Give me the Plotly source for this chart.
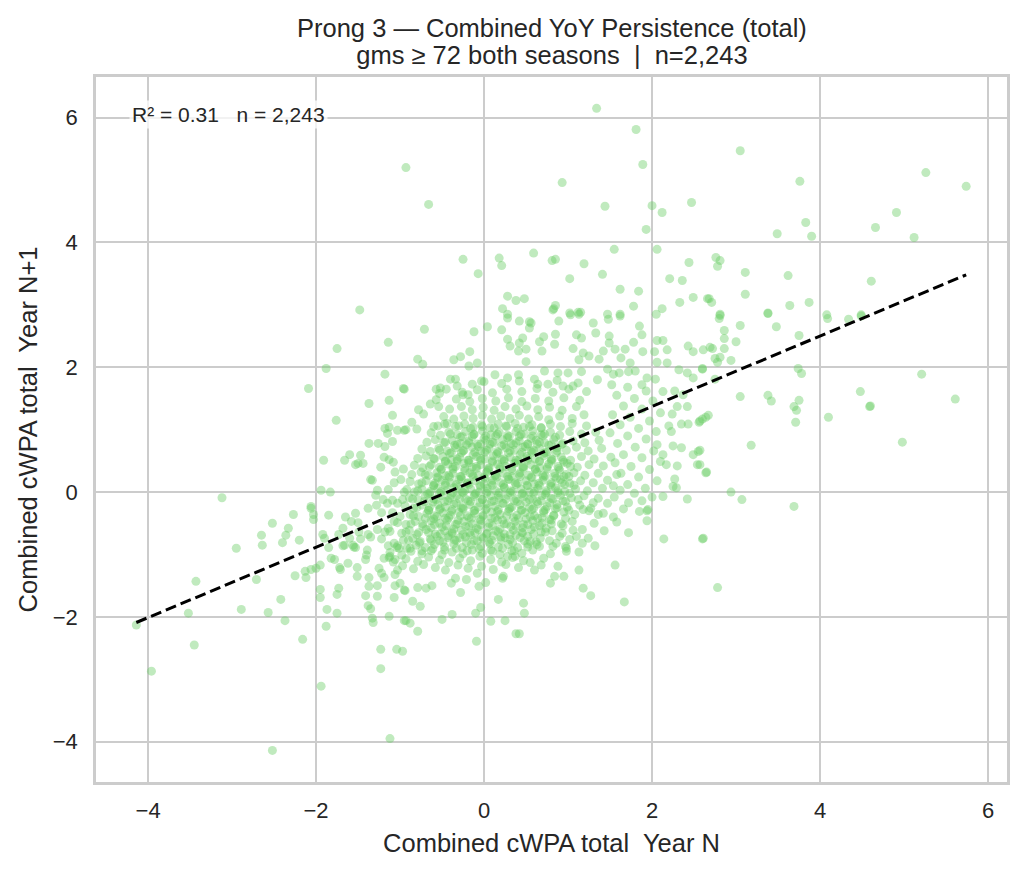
import plotly.graph_objects as go

# ---- data (Year N, Year N+1) ----
upper_pts = [
    (1.34, 6.15), (1.81, 5.81), (1.89, 5.25), (0.93, 4.96), (-0.93, 5.20), (-0.66, 4.61),
    (1.44, 4.58), (2.00, 4.59), (2.12, 4.48), (2.47, 4.64), (1.93, 4.21), (1.55, 3.89),
    (2.06, 3.89), (2.44, 3.68), (-0.25, 3.73), (-0.07, 3.50), (0.18, 3.75), (0.21, 3.63),
    (0.59, 3.83), (0.81, 3.71), (0.85, 3.73), (1.19, 3.66), (1.02, 3.42), (1.41, 3.49),
    (1.62, 3.25), (1.84, 3.22), (2.21, 3.42), (2.36, 3.39), (2.49, 3.12), (2.33, 3.04),
    (2.12, 2.94), (1.78, 2.98), (2.66, 3.10), (0.28, 3.14), (0.38, 3.07), (0.48, 3.10),
    (0.22, 2.94), (0.83, 2.94), (0.85, 2.99), (0.28, 2.85), (1.02, 2.87), (1.12, 2.88),
    (1.15, 2.88), (1.47, 2.85), (1.62, 2.85), (2.05, 2.85),
    (3.05, 5.47), (3.76, 4.98), (3.83, 4.32), (3.49, 4.14), (3.90, 4.10), (5.26, 5.12),
    (5.74, 4.90), (4.91, 4.48), (4.66, 4.24), (5.12, 4.08), (4.61, 3.38), (2.76, 3.76),
    (2.81, 3.71), (2.78, 3.62), (3.11, 3.52), (3.62, 3.47), (3.11, 3.17), (2.68, 3.10),
    (2.71, 3.04), (3.64, 2.99), (3.87, 3.04), (3.38, 2.87), (2.81, 2.85), (4.08, 2.84),
    (4.49, 2.84), (-1.48, 2.92),
]

right_pts = [
    (5.21, 1.89), (5.61, 1.49), (4.48, 1.61), (4.59, 1.37), (4.60, 1.38), (4.10, 1.20),
    (4.98, 0.80), (4.09, 2.78), (4.34, 2.77), (4.49, 2.82), (3.75, 2.51), (3.74, 1.98),
    (3.78, 1.90), (3.38, 1.55), (3.42, 1.46), (3.75, 1.47), (3.69, 1.37), (3.72, 1.31),
    (3.71, 1.12), (3.05, 1.53), (3.18, 0.75), (2.67, 1.23), (2.60, 1.17), (2.57, 1.14),
    (2.57, 0.67), (2.57, 0.44), (2.65, 0.32), (2.94, 0.00), (3.07, -0.12), (3.69, -0.23),
    (2.61, -0.74), (3.38, 2.86), (3.48, 2.65), (3.05, 2.67), (2.81, 2.83), (2.80, 2.78),
    (2.86, 2.59), (2.86, 2.46), (3.00, 2.41), (2.69, 2.32), (2.72, 2.30), (2.86, 2.30),
    (2.75, 2.14), (2.81, 2.16), (2.78, 2.08), (2.94, 2.11), (2.60, 1.98), (2.75, 1.81),
    (2.78, -1.53),
]

left_pts = [
    (-1.75, 2.30), (-1.14, 2.40), (-1.88, 1.98), (-2.09, 1.66), (-1.18, 1.89), (-0.96, 1.66),
    (-1.37, 1.42), (-1.13, 1.47), (-1.76, 1.15), (-1.09, 1.23), (-1.18, 1.02), (-1.13, 1.04),
    (-1.15, 0.94), (-1.03, 0.99), (-0.95, 0.99), (-1.37, 0.78), (-1.26, 0.78), (-1.18, 0.73),
    (-1.09, 0.81), (-1.91, 0.51), (-1.66, 0.51), (-1.60, 0.60), (-1.47, 0.59), (-1.53, 0.44),
    (-1.50, 0.46), (-1.44, 0.46), (-1.23, 0.40), (-1.19, 0.56), (-1.13, 0.52), (-1.08, 0.48),
    (-1.06, 0.32), (-0.96, 0.37), (-1.35, 0.20), (-1.33, 0.19), (-1.07, 0.15), (-0.99, 0.20),
    (-3.12, -0.09), (-1.94, 0.03), (-1.83, 0.00), (-1.27, 0.03), (-1.14, 0.04), (-1.29, -0.05),
    (-1.20, -0.12), (-1.15, -0.18), (-1.09, -0.13), (-1.03, -0.18), (-0.97, -0.12), (-0.95, 0.00),
    (-2.06, -0.23), (-2.06, -0.26), (-2.03, -0.36), (-2.03, -0.44), (-2.27, -0.36), (-2.52, -0.50),
    (-2.33, -0.58), (-2.36, -0.69), (-2.65, -0.69), (-2.64, -0.85), (-2.40, -0.81), (-2.20, -0.77),
    (-2.95, -0.90), (-1.85, -0.37), (-1.92, -0.68), (-1.90, -0.74), (-1.73, -0.68), (-1.68, -0.58),
    (-1.65, -0.40), (-1.53, -0.34), (-1.58, -0.47), (-1.50, -0.49), (-1.60, -0.74), (-1.66, -0.85),
    (-1.56, -0.85), (-1.38, -0.26), (-1.28, -0.21), (-1.22, -0.33), (-1.38, -0.68), (-1.35, -0.72),
    (-1.27, -0.60), (-1.22, -0.75), (-1.18, -0.64), (-1.14, -0.58), (-1.09, -0.33), (-1.07, -0.47),
    (-1.03, -0.49), (-1.00, -0.39), (-1.07, -0.82), (-1.03, -0.86), (-1.49, -0.64), (-1.47, -0.75),
]

lower_left_pts = [
    (-4.14, -2.13), (-3.96, -2.87), (-3.45, -2.45), (-3.52, -1.94), (-3.43, -1.43), (-2.89, -1.88),
    (-2.71, -1.40), (-2.42, -1.72), (-2.57, -1.93), (-2.37, -2.06), (-2.16, -2.36), (-2.52, -4.14),
    (-1.94, -3.11), (-1.12, -3.95), (-1.23, -2.52), (-1.23, -2.83), (-1.04, -2.52), (-0.97, -2.55),
    (-1.88, -2.15), (-1.87, -1.88), (-1.75, -1.94), (-1.95, -1.56), (-1.95, -1.69), (-1.75, -1.64),
    (-1.73, -1.54), (-2.25, -1.34), (-2.12, -1.37), (-2.13, -1.27), (-2.06, -1.24), (-2.00, -1.22),
    (-1.95, -1.17), (-1.85, -0.89), (-1.82, -1.06), (-1.78, -1.08), (-1.72, -1.21), (-1.71, -1.24),
    (-1.62, -1.14), (-1.51, -1.21), (-1.51, -1.35), (-1.68, -0.86), (-1.55, -0.88), (-1.53, -0.89),
    (-1.41, -1.08), (-1.39, -0.93), (-1.40, -1.01), (-1.37, -1.37), (-1.37, -1.51), (-1.41, -1.66),
    (-1.38, -1.82), (-1.35, -1.87), (-1.33, -2.02), (-1.32, -2.09), (-1.27, -1.50), (-1.27, -1.67),
    (-1.25, -1.22), (-1.22, -1.30), (-1.19, -1.37), (-1.19, -1.06), (-1.13, -1.05), (-1.12, -1.03),
    (-1.06, -1.08), (-1.07, -1.69), (-1.13, -1.99), (-1.06, -1.50), (-1.00, -1.46), (-0.95, -1.57),
    (-1.03, -1.25), (-1.06, -1.32), (-1.04, -0.89), (-1.01, -0.90), (-0.95, -2.06),
]

lower_mid_pts = [
    (-0.09, -2.39), (-0.79, -2.23), (-0.93, -2.06), (-0.88, -2.10), (-0.50, -2.04), (-0.38, -1.96),
    (-0.10, -1.94), (-0.04, -1.85), (0.08, -2.07), (0.25, -2.06), (0.38, -2.27), (0.42, -2.27),
    (0.48, -1.94), (0.47, -1.78), (0.17, -1.72), (-0.85, -1.75), (-0.76, -1.83), (-0.28, -1.61),
    (-0.94, -1.58), (-0.79, -1.53), (-0.69, -1.54), (-0.62, -1.50), (-0.39, -1.46), (-0.34, -1.38),
    (-0.21, -1.40), (-0.08, -1.30), (-0.06, -1.51), (0.02, -1.45), (0.22, -1.38), (0.23, -1.35),
    (0.60, -1.25), (0.68, -1.17), (0.79, -1.46), (0.84, -1.35), (0.88, -1.19), (0.95, -1.35),
    (1.13, -1.25), (1.18, -1.54), (1.27, -1.66), (1.56, -1.17), (1.67, -1.76), (0.98, -0.90),
    (0.98, -0.95), (1.13, -0.96), (0.37, -1.03), (0.28, -1.03), (0.52, -0.88), (0.63, -0.84),
]

center_sparse_pts = [
    (-0.71, 2.61), (-0.12, 2.57), (0.04, 2.65), (0.28, 2.79), (0.42, 2.74), (0.54, 2.73),
    (0.56, 2.71), (0.21, 2.60), (0.28, 2.45), (0.31, 2.34), (0.41, 2.26), (0.50, 2.29),
    (0.42, 2.39), (0.46, 2.47), (0.54, 2.63), (0.66, 2.41), (0.71, 2.49), (0.69, 2.26),
    (0.84, 2.37), (0.85, 2.53), (0.89, 2.74), (0.82, 2.92), (1.03, 2.84), (1.13, 2.85),
    (1.10, 2.52), (1.16, 2.47), (1.06, 2.30), (1.18, 2.23), (1.13, 2.12), (1.30, 2.71),
    (1.33, 2.55), (1.48, 2.77), (1.62, 2.82), (1.49, 2.50), (1.49, 2.39), (1.68, 2.29),
    (1.78, 2.40), (1.85, 2.66), (1.88, 2.52), (1.37, 2.13), (1.25, 2.18), (1.42, 2.26),
    (1.56, 2.29), (1.74, 2.07), (1.63, 2.15), (1.89, 2.25), (2.03, 2.25), (2.06, 2.43),
    (2.13, 2.43), (2.18, 2.28), (2.06, 2.08), (2.18, 2.07), (2.43, 2.34), (2.49, 2.25),
    (2.61, 2.28), (2.32, 1.96), (2.42, 1.91), (2.49, 1.83), (2.60, 1.97), (-0.79, 2.13),
    (-0.73, 2.05), (-0.36, 2.12), (-0.28, 2.17), (-0.17, 2.25), (-0.18, 2.02), (-0.08, 2.07),
    (-0.95, 1.65), (-0.57, 1.65), (-0.52, 1.67), (-0.45, 1.65), (-0.40, 1.81), (-0.34, 1.81),
    (-0.32, 1.70), (-0.57, 1.48), (-0.54, 1.37), (-0.25, 1.56), (-0.19, 1.56), (-0.14, 1.73),
    (-0.03, 1.78), (-0.93, 1.00), (-0.80, 1.01), (-0.60, 1.05), (-0.47, 1.09), (0.13, 1.88),
    (0.28, 1.83), (0.41, 1.88), (0.50, 2.09), (0.60, 1.81), (0.72, 1.94), (0.88, 1.91),
    (1.00, 1.91), (1.16, 1.93), (1.06, 1.70), (0.94, 1.70), (0.76, 1.73), (1.47, 1.97),
    (1.54, 1.89), (1.61, 1.91), (1.72, 1.93), (1.80, 1.94), (1.94, 1.83), (1.88, 1.72),
    (2.04, 1.81), (2.13, 1.61), (2.27, 1.62), (2.37, 1.56), (2.42, 1.37), (2.30, 1.37),
    (2.24, 1.25), (2.35, 1.09), (2.20, 1.06), (2.23, 0.97), (2.43, 1.09), (2.56, 1.12),
    (2.64, 1.20), (2.55, 0.65), (2.49, 0.60), (2.64, 0.31), (2.54, 0.44), (2.06, 0.76),
    (2.13, 0.60), (2.25, 0.74), (2.35, 0.71), (2.17, 0.44), (2.30, 0.42), (2.27, 0.21),
    (2.25, 0.09), (2.29, 0.07), (2.42, -0.11), (2.13, -0.07), (1.94, -0.30), (1.85, -0.31),
    (1.72, -0.17), (1.54, -0.40), (1.72, -0.65), (2.14, -0.75), (2.60, -0.75), (1.94, -0.46),
    (1.95, -0.28), (1.18, -0.28), (1.25, -0.30), (1.30, -0.17), (1.06, -0.61), (1.10, -0.71),
    (0.97, -0.87), (0.82, -0.87), (0.90, -0.71), (0.94, -0.54),
    (1.52, 1.72), (1.71, 1.68), (1.93, 1.62), (1.58, 1.55), (1.79, 1.50), (2.01, 1.46),
    (1.66, 1.38), (1.88, 1.33), (2.10, 1.27), (1.53, 1.24), (1.74, 1.20), (1.97, 1.14),
    (1.62, 1.08), (1.84, 1.02), (2.05, 0.97), (1.50, 0.95), (1.71, 0.90), (1.93, 0.85),
    (1.59, 0.78), (1.80, 0.72), (2.02, 0.66), (1.66, 0.60), (1.88, 0.55), (2.10, 0.49),
    (1.56, 0.47), (1.75, 0.41), (1.97, 0.36), (1.63, 0.30), (1.84, 0.24), (2.06, 0.18),
    (1.71, 0.12), (1.92, 0.06), (1.54, 0.10), (1.79, -0.02), (2.00, -0.08), (1.47, -0.18),
    (1.66, -0.27), (1.88, -0.14), (1.36, -0.36), (1.58, -0.48), (1.43, -0.62), (1.24, -0.74),
    (1.32, -0.86), (1.17, -0.82), (-0.72, 1.25), (-0.64, 1.41), (-0.53, 1.58), (-0.86, 1.12),
    (-0.78, 1.32),
]

core_pts = [
    (-0.97, -1.18), (-0.84, -1.23), (-0.72, -1.16), (-0.58, -1.21), (-0.46, -1.25), (-0.31, -1.17),
    (-0.19, -1.22), (-0.03, -1.19), (0.11, -1.24), (0.26, -1.16), (0.41, -1.21), (0.55, -1.13),
    (-1.08, -1.12), (-0.93, -1.07), (-0.79, -1.11), (-0.66, -1.04), (-0.53, -1.09), (-0.42, -1.13),
    (-0.29, -1.06), (-0.16, -1.10), (-0.05, -1.03), (0.08, -1.08), (0.21, -1.12), (0.34, -1.05),
    (0.47, -1.10), (0.71, -1.06),
    (-1.12, -0.97), (-0.98, -1.01), (-0.87, -0.95), (-0.74, -0.99), (-0.63, -0.94), (-0.50, -1.00),
    (-0.38, -0.96), (-0.25, -0.99), (-0.14, -0.93), (-0.02, -0.98), (0.10, -0.95), (0.19, -1.00),
    (0.33, -0.94), (0.45, -0.98), (0.58, -0.93), (0.79, -0.99),
    (-1.14, -0.86), (-0.92, -0.90), (-0.81, -0.85), (-0.70, -0.89), (-0.59, -0.84), (-0.47, -0.88),
    (-0.36, -0.83), (-0.26, -0.89), (-0.15, -0.84), (-0.04, -0.87), (0.07, -0.83), (0.17, -0.88),
    (0.29, -0.84), (0.40, -0.89), (0.52, -0.83), (0.66, -0.87), (0.86, -0.82),
    (-0.96, -0.77), (-0.85, -0.74), (-0.76, -0.79), (-0.64, -0.75), (-0.53, -0.78), (-0.43, -0.73),
    (-0.33, -0.77), (-0.22, -0.72), (-0.12, -0.78), (-0.01, -0.74), (0.09, -0.77), (0.20, -0.72),
    (0.31, -0.76), (0.43, -0.73), (0.55, -0.79), (0.67, -0.74), (0.78, -0.78), (1.02, -0.76),
    (-1.12, -0.63), (-0.98, -0.66), (-0.89, -0.61), (-0.78, -0.65), (-0.69, -0.60), (-0.58, -0.67),
    (-0.47, -0.62), (-0.38, -0.66), (-0.27, -0.61), (-0.17, -0.65), (-0.07, -0.60), (0.04, -0.66),
    (0.14, -0.62), (0.24, -0.67), (0.35, -0.61), (0.46, -0.65), (0.56, -0.60), (0.68, -0.64),
    (0.81, -0.62), (0.93, -0.66), (1.17, -0.60),
    (-0.93, -0.52), (-0.82, -0.47), (-0.73, -0.51), (-0.63, -0.46), (-0.53, -0.50), (-0.44, -0.45),
    (-0.34, -0.52), (-0.24, -0.47), (-0.14, -0.51), (-0.04, -0.46), (0.06, -0.50), (0.16, -0.45),
    (0.27, -0.51), (0.37, -0.47), (0.47, -0.52), (0.58, -0.46), (0.69, -0.50), (0.80, -0.45),
    (0.92, -0.51), (1.05, -0.47), (1.31, -0.50),
    (-0.88, -0.36), (-0.78, -0.39), (-0.68, -0.34), (-0.59, -0.38), (-0.49, -0.33), (-0.40, -0.37),
    (-0.30, -0.32), (-0.20, -0.38), (-0.11, -0.34), (-0.01, -0.37), (0.09, -0.32), (0.19, -0.36),
    (0.29, -0.31), (0.39, -0.37), (0.49, -0.33), (0.60, -0.38), (0.71, -0.33), (0.83, -0.37),
    (0.95, -0.32), (1.08, -0.36), (1.42, -0.34),
    (-0.94, -0.22), (-0.84, -0.26), (-0.74, -0.21), (-0.65, -0.25), (-0.55, -0.20), (-0.46, -0.24),
    (-0.36, -0.19), (-0.27, -0.25), (-0.17, -0.20), (-0.07, -0.24), (0.03, -0.19), (0.13, -0.23),
    (0.23, -0.18), (0.33, -0.24), (0.43, -0.20), (0.54, -0.25), (0.64, -0.19), (0.75, -0.23),
    (0.87, -0.20), (0.99, -0.24), (1.14, -0.21), (1.27, -0.26),
    (-0.89, -0.09), (-0.79, -0.12), (-0.70, -0.07), (-0.60, -0.11), (-0.51, -0.06), (-0.41, -0.10),
    (-0.32, -0.05), (-0.22, -0.11), (-0.12, -0.07), (-0.02, -0.12), (0.08, -0.06), (0.18, -0.10),
    (0.28, -0.05), (0.38, -0.11), (0.48, -0.07), (0.58, -0.12), (0.69, -0.06), (0.80, -0.10),
    (0.91, -0.05), (1.04, -0.09), (1.19, -0.06), (1.36, -0.10), (1.55, -0.08),
    (-0.92, 0.04), (-0.83, 0.00), (-0.74, 0.05), (-0.64, 0.01), (-0.55, 0.06), (-0.45, 0.02),
    (-0.36, 0.07), (-0.26, 0.01), (-0.16, 0.05), (-0.06, 0.00), (0.04, 0.06), (0.14, 0.02),
    (0.24, 0.07), (0.34, 0.01), (0.44, 0.05), (0.54, 0.00), (0.64, 0.06), (0.74, 0.02),
    (0.85, 0.07), (0.96, 0.01), (1.09, 0.05), (1.23, 0.02), (1.41, 0.06), (1.62, 0.03),
    (-0.88, 0.17), (-0.78, 0.13), (-0.69, 0.18), (-0.59, 0.14), (-0.50, 0.19), (-0.40, 0.15),
    (-0.30, 0.20), (-0.20, 0.14), (-0.10, 0.18), (0.00, 0.13), (0.10, 0.19), (0.20, 0.15),
    (0.30, 0.20), (0.40, 0.14), (0.50, 0.18), (0.60, 0.13), (0.70, 0.19), (0.80, 0.15),
    (0.91, 0.20), (1.02, 0.14), (1.15, 0.18), (1.30, 0.15), (1.47, 0.19),
    (-0.86, 0.28), (-0.75, 0.32), (-0.66, 0.27), (-0.56, 0.31), (-0.46, 0.26), (-0.37, 0.30),
    (-0.27, 0.25), (-0.17, 0.31), (-0.07, 0.27), (0.03, 0.32), (0.13, 0.26), (0.23, 0.30),
    (0.33, 0.25), (0.43, 0.31), (0.53, 0.27), (0.63, 0.32), (0.73, 0.26), (0.84, 0.30),
    (0.95, 0.25), (1.07, 0.31), (1.20, 0.27), (1.36, 0.30), (1.58, 0.28),
    (-0.83, 0.43), (-0.73, 0.39), (-0.63, 0.44), (-0.53, 0.40), (-0.43, 0.45), (-0.34, 0.41),
    (-0.24, 0.46), (-0.14, 0.40), (-0.04, 0.44), (0.06, 0.39), (0.16, 0.45), (0.26, 0.41),
    (0.36, 0.46), (0.46, 0.40), (0.56, 0.44), (0.66, 0.39), (0.77, 0.45), (0.88, 0.41),
    (0.99, 0.46), (1.11, 0.40), (1.25, 0.44), (1.42, 0.42),
    (-0.79, 0.54), (-0.69, 0.58), (-0.59, 0.53), (-0.49, 0.57), (-0.39, 0.52), (-0.29, 0.56),
    (-0.19, 0.51), (-0.09, 0.57), (0.01, 0.53), (0.11, 0.58), (0.21, 0.52), (0.31, 0.56),
    (0.41, 0.51), (0.51, 0.57), (0.61, 0.53), (0.71, 0.58), (0.81, 0.52), (0.92, 0.56),
    (1.03, 0.51), (1.16, 0.57), (1.31, 0.53), (1.51, 0.56),
    (-0.74, 0.69), (-0.64, 0.65), (-0.54, 0.70), (-0.44, 0.66), (-0.34, 0.71), (-0.24, 0.67),
    (-0.14, 0.72), (-0.04, 0.66), (0.06, 0.70), (0.16, 0.65), (0.26, 0.71), (0.36, 0.67),
    (0.46, 0.72), (0.56, 0.66), (0.66, 0.70), (0.76, 0.65), (0.87, 0.71), (0.98, 0.67),
    (1.10, 0.72), (1.24, 0.66), (1.40, 0.70),
    (-0.68, 0.80), (-0.58, 0.84), (-0.48, 0.79), (-0.38, 0.83), (-0.28, 0.78), (-0.18, 0.82),
    (-0.08, 0.77), (0.02, 0.83), (0.12, 0.79), (0.22, 0.84), (0.32, 0.78), (0.42, 0.82),
    (0.52, 0.77), (0.62, 0.83), (0.72, 0.79), (0.83, 0.84), (0.94, 0.78), (1.06, 0.82),
    (1.20, 0.79), (1.37, 0.83),
    (-0.63, 0.95), (-0.52, 0.91), (-0.42, 0.96), (-0.32, 0.92), (-0.22, 0.97), (-0.12, 0.93),
    (-0.02, 0.98), (0.08, 0.92), (0.18, 0.96), (0.28, 0.91), (0.38, 0.97), (0.48, 0.93),
    (0.58, 0.98), (0.68, 0.92), (0.79, 0.96), (0.90, 0.91), (1.02, 0.97), (1.16, 0.93),
    (1.33, 0.96),
    (-0.55, 1.06), (-0.44, 1.10), (-0.34, 1.05), (-0.23, 1.09), (-0.13, 1.04), (-0.03, 1.08),
    (0.07, 1.03), (0.17, 1.09), (0.27, 1.05), (0.37, 1.10), (0.47, 1.04), (0.57, 1.08),
    (0.68, 1.03), (0.79, 1.09), (0.91, 1.05), (1.05, 1.10), (1.22, 1.06),
    (-0.48, 1.21), (-0.36, 1.17), (-0.24, 1.22), (-0.13, 1.18), (-0.02, 1.23), (0.09, 1.17),
    (0.20, 1.22), (0.31, 1.18), (0.42, 1.23), (0.53, 1.17), (0.65, 1.21), (0.77, 1.16),
    (0.90, 1.22), (1.05, 1.18), (1.19, 1.24),
    (-0.41, 1.33), (-0.27, 1.37), (-0.14, 1.32), (-0.01, 1.36), (0.12, 1.31), (0.25, 1.37),
    (0.38, 1.33), (0.51, 1.38), (0.64, 1.32), (0.78, 1.36), (0.93, 1.31), (1.10, 1.37),
    (-0.33, 1.49), (-0.17, 1.45), (-0.02, 1.50), (0.14, 1.46), (0.29, 1.51), (0.45, 1.45),
    (0.61, 1.50), (0.77, 1.46), (0.95, 1.51), (1.14, 1.47),
    (-0.26, 1.60), (-0.08, 1.64), (0.10, 1.59), (0.27, 1.65), (0.45, 1.61), (0.63, 1.66),
    (0.82, 1.60), (1.01, 1.65), (1.22, 1.61),
    (0.00, 1.77), (0.21, 1.74), (0.42, 1.78), (0.64, 1.73), (0.87, 1.79), (1.12, 1.75),
    (1.35, 1.80),
    (-0.56, -0.71), (-0.42, -0.70), (-0.29, -0.73), (-0.16, -0.69), (-0.03, -0.72), (0.11, -0.70),
    (0.25, -0.73), (0.38, -0.69), (0.52, -0.71),
    (-0.63, -0.57), (-0.50, -0.56), (-0.36, -0.59), (-0.22, -0.55), (-0.09, -0.58), (0.05, -0.56),
    (0.19, -0.59), (0.32, -0.55), (0.46, -0.57), (0.60, -0.56), (0.74, -0.58),
    (-0.60, -0.43), (-0.46, -0.42), (-0.31, -0.45), (-0.18, -0.41), (-0.05, -0.44), (0.09, -0.42),
    (0.22, -0.45), (0.35, -0.41), (0.50, -0.43), (0.64, -0.42), (0.78, -0.44),
    (-0.66, -0.29), (-0.53, -0.28), (-0.39, -0.31), (-0.25, -0.27), (-0.12, -0.30), (0.02, -0.28),
    (0.16, -0.31), (0.30, -0.27), (0.44, -0.29), (0.57, -0.28), (0.71, -0.30), (0.85, -0.27),
    (-0.61, -0.16), (-0.47, -0.15), (-0.33, -0.18), (-0.19, -0.14), (-0.05, -0.17), (0.09, -0.15),
    (0.22, -0.18), (0.36, -0.14), (0.50, -0.16), (0.63, -0.15), (0.78, -0.17), (0.94, -0.14),
    (-0.67, -0.03), (-0.53, -0.02), (-0.39, -0.05), (-0.25, -0.01), (-0.11, -0.04), (0.03, -0.02),
    (0.17, -0.05), (0.31, -0.01), (0.45, -0.03), (0.59, -0.02), (0.73, -0.04), (0.88, -0.01),
    (-0.60, 0.10), (-0.46, 0.11), (-0.32, 0.08), (-0.18, 0.12), (-0.04, 0.09), (0.10, 0.11),
    (0.24, 0.08), (0.38, 0.12), (0.52, 0.10), (0.66, 0.11), (0.80, 0.09), (0.96, 0.12),
    (-0.55, 0.23), (-0.41, 0.24), (-0.27, 0.21), (-0.13, 0.25), (0.01, 0.22), (0.15, 0.24),
    (0.29, 0.21), (0.43, 0.25), (0.57, 0.23), (0.71, 0.24), (0.86, 0.22), (1.01, 0.25),
    (-0.51, 0.36), (-0.37, 0.37), (-0.23, 0.34), (-0.09, 0.38), (0.05, 0.35), (0.19, 0.37),
    (0.33, 0.34), (0.47, 0.38), (0.61, 0.36), (0.75, 0.37), (0.90, 0.35),
    (-0.46, 0.49), (-0.32, 0.50), (-0.18, 0.47), (-0.04, 0.51), (0.10, 0.48), (0.24, 0.50),
    (0.38, 0.47), (0.52, 0.51), (0.66, 0.49), (0.80, 0.50), (0.95, 0.48),
    (-0.41, 0.62), (-0.27, 0.63), (-0.13, 0.60), (0.01, 0.64), (0.15, 0.61), (0.29, 0.63),
    (0.43, 0.60), (0.57, 0.64), (0.71, 0.62), (0.86, 0.63),
    (-0.35, 0.75), (-0.21, 0.76), (-0.07, 0.73), (0.07, 0.77), (0.21, 0.74), (0.35, 0.76),
    (0.49, 0.73), (0.63, 0.77), (0.77, 0.75), (0.92, 0.76),
    (-0.28, 0.88), (-0.14, 0.89), (0.00, 0.86), (0.14, 0.90), (0.28, 0.87), (0.42, 0.89),
    (0.56, 0.86), (0.70, 0.90), (0.85, 0.88),
]

core_dense_pts = [
    (-0.88, -0.90), (-0.74, -0.94), (-0.61, -0.91), (-0.47, -0.93), (-0.33, -0.90), (-0.20, -0.94),
    (-0.06, -0.91), (0.08, -0.93), (0.22, -0.90), (0.36, -0.94),
    (-0.90, -0.77), (-0.77, -0.81), (-0.63, -0.78), (-0.49, -0.80), (-0.35, -0.77), (-0.21, -0.81),
    (-0.08, -0.78), (0.06, -0.80), (0.20, -0.77), (0.34, -0.81), (0.48, -0.78), (0.62, -0.80),
    (-0.93, -0.64), (-0.80, -0.68), (-0.66, -0.65), (-0.52, -0.67), (-0.38, -0.64), (-0.25, -0.68),
    (-0.11, -0.65), (0.03, -0.67), (0.17, -0.64), (0.31, -0.68), (0.45, -0.65), (0.59, -0.67),
    (0.73, -0.64),
    (-0.87, -0.51), (-0.73, -0.55), (-0.59, -0.52), (-0.45, -0.54), (-0.32, -0.51), (-0.18, -0.55),
    (-0.04, -0.52), (0.10, -0.54), (0.24, -0.51), (0.38, -0.55), (0.52, -0.52), (0.66, -0.54),
    (0.80, -0.51),
    (-0.84, -0.38), (-0.70, -0.42), (-0.56, -0.39), (-0.42, -0.41), (-0.28, -0.38), (-0.15, -0.42),
    (-0.01, -0.39), (0.13, -0.41), (0.27, -0.38), (0.41, -0.42), (0.55, -0.39), (0.69, -0.41),
    (0.83, -0.38), (0.97, -0.42),
    (-0.80, -0.25), (-0.66, -0.29), (-0.52, -0.26), (-0.38, -0.28), (-0.25, -0.25), (-0.11, -0.29),
    (0.03, -0.26), (0.17, -0.28), (0.31, -0.25), (0.45, -0.29), (0.59, -0.26), (0.73, -0.28),
    (0.87, -0.25), (1.01, -0.29),
    (-0.85, -0.11), (-0.71, -0.15), (-0.57, -0.12), (-0.43, -0.14), (-0.29, -0.11), (-0.16, -0.15),
    (-0.02, -0.12), (0.12, -0.14), (0.26, -0.11), (0.40, -0.15), (0.54, -0.12), (0.68, -0.14),
    (0.82, -0.11), (0.97, -0.15), (1.12, -0.12),
    (-0.79, 0.02), (-0.65, -0.02), (-0.51, 0.01), (-0.37, -0.01), (-0.23, 0.02), (-0.10, -0.02),
    (0.04, 0.01), (0.18, -0.01), (0.32, 0.02), (0.46, -0.02), (0.60, 0.01), (0.74, -0.01),
    (0.88, 0.02), (1.02, -0.02),
    (-0.74, 0.15), (-0.60, 0.11), (-0.46, 0.14), (-0.33, 0.12), (-0.19, 0.15), (-0.05, 0.11),
    (0.09, 0.14), (0.23, 0.12), (0.37, 0.15), (0.51, 0.11), (0.65, 0.14), (0.79, 0.12),
    (0.93, 0.15), (1.07, 0.11),
    (-0.70, 0.28), (-0.56, 0.24), (-0.42, 0.27), (-0.28, 0.25), (-0.14, 0.28), (0.00, 0.24),
    (0.14, 0.27), (0.28, 0.25), (0.42, 0.28), (0.56, 0.24), (0.70, 0.27), (0.84, 0.25),
    (0.98, 0.28),
    (-0.65, 0.41), (-0.51, 0.37), (-0.37, 0.40), (-0.23, 0.38), (-0.09, 0.41), (0.05, 0.37),
    (0.19, 0.40), (0.33, 0.38), (0.47, 0.41), (0.61, 0.37), (0.75, 0.40), (0.89, 0.38),
    (1.03, 0.41),
    (-0.60, 0.54), (-0.46, 0.50), (-0.32, 0.53), (-0.18, 0.51), (-0.04, 0.54), (0.10, 0.50),
    (0.24, 0.53), (0.38, 0.51), (0.52, 0.54), (0.66, 0.50), (0.80, 0.53), (0.94, 0.51),
    (-0.53, 0.67), (-0.39, 0.63), (-0.25, 0.66), (-0.11, 0.64), (0.03, 0.67), (0.17, 0.63),
    (0.31, 0.66), (0.45, 0.64), (0.59, 0.67), (0.73, 0.63), (0.87, 0.66),
    (-0.46, 0.80), (-0.32, 0.76), (-0.18, 0.79), (-0.04, 0.77), (0.10, 0.80), (0.24, 0.76),
    (0.38, 0.79), (0.52, 0.77), (0.66, 0.80), (0.80, 0.76),
    (-0.40, 0.93), (-0.26, 0.89), (-0.12, 0.92), (0.02, 0.90), (0.16, 0.93), (0.30, 0.89),
    (0.44, 0.92), (0.58, 0.90), (0.72, 0.93),
    (-0.30, 1.06), (-0.16, 1.02), (-0.02, 1.05), (0.12, 1.03), (0.26, 1.06), (0.40, 1.02),
    (0.54, 1.05), (0.68, 1.03),
]

# fitted regression
fit_slope = 0.564
fit_intercept = 0.245

x_ticks = [-4, -2, 0, 2, 4, 6]
x_tick_text = ["\u22124", "\u22122", "0", "2", "4", "6"]
y_ticks = [-4, -2, 0, 2, 4, 6]
y_tick_text = ["\u22124", "\u22122", "0", "2", "4", "6"]

title_line1 = "Prong 3 \u2014 Combined YoY Persistence (total)"
title_line2 = "gms \u2265 72 both seasons  |  n=2,243"
stats_text = "R\u00b2 = 0.31   n = 2,243"

# ---- build ----
all_pts = (upper_pts + right_pts + left_pts + lower_left_pts + lower_mid_pts
           + center_sparse_pts + core_pts + core_dense_pts)
year_n = [p[0] for p in all_pts]
year_n1 = [p[1] for p in all_pts]

fit_x = [min(year_n), max(year_n)]
fit_y = [fit_intercept + fit_slope * v for v in fit_x]

FONT = "Liberation Sans, Arial, Helvetica, sans-serif"
TXT = "#262626"

fig = go.Figure()
fig.add_trace(go.Scatter(
    x=year_n, y=year_n1, mode="markers",
    marker=dict(size=9, color="rgba(106,204,100,0.42)", line=dict(width=0)),
    hoverinfo="skip", showlegend=False,
))
fig.add_trace(go.Scatter(
    x=fit_x, y=fit_y, mode="lines",
    line=dict(color="black", width=3, dash="11px,5px"),
    hoverinfo="skip", showlegend=False,
))

# page body has an 8px margin: the figure is sized to fit the window exactly
fig.update_layout(
    width=1014, height=865,
    margin=dict(l=88, r=15, t=69, b=91),
    paper_bgcolor="white", plot_bgcolor="white",
    font=dict(family=FONT, color=TXT),
    showlegend=False,
)
axis_common = dict(
    showgrid=True, gridcolor="#cccccc", gridwidth=1.7,
    zeroline=False, showline=True, linecolor="#cccccc", linewidth=2.5, mirror=True,
    ticks="outside", ticklen=0, tickfont=dict(size=22, family=FONT, color=TXT),
)
fig.update_xaxes(
    range=[-4.62, 6.226], tickvals=x_ticks, ticktext=x_tick_text,
    ticklabelstandoff=7,
    title=dict(text="Combined cWPA total  Year N", font=dict(size=25.5, family=FONT, color=TXT), standoff=12),
    **axis_common,
)
fig.update_yaxes(
    range=[-4.646, 6.652], tickvals=y_ticks, ticktext=y_tick_text,
    ticklabelstandoff=11,
    title=dict(text="Combined cWPA total  Year N+1", font=dict(size=25.5, family=FONT, color=TXT), standoff=8),
    **axis_common,
)

# two-line title as one text; the base size sets the line spacing, spans set the glyph size
title_html = ("<span style='font-size:25.5px'>" + title_line1 + "</span><br>"
              "<span style='font-size:25.5px'>" + title_line2 + "</span>")
fig.add_annotation(text=title_html, xref="paper", yref="paper", x=0.5, y=1.0504,
                   xanchor="center", yanchor="middle", showarrow=False,
                   font=dict(size=21, family=FONT, color=TXT))
fig.add_annotation(text=stats_text, xref="paper", yref="paper", x=0.036, y=0.9475,
                   xanchor="left", yanchor="middle", showarrow=False,
                   bgcolor="rgba(255,255,255,0.75)", borderpad=2,
                   font=dict(size=21, family=FONT, color=TXT))

fig.write_html("out.html")
